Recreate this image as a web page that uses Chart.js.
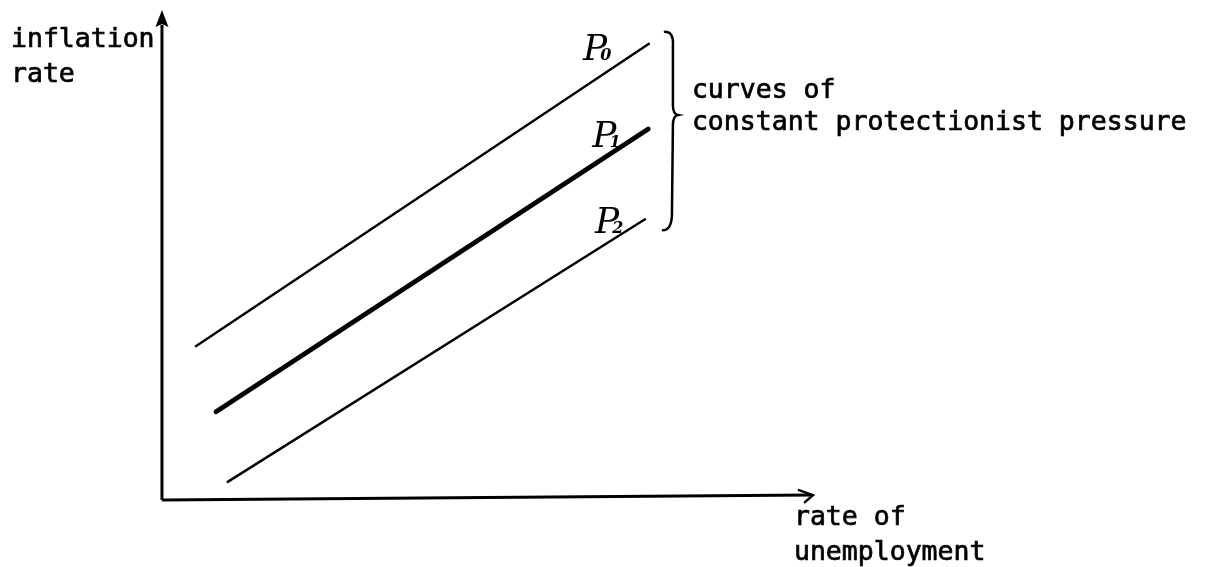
<!DOCTYPE html>
<html>
<head>
<meta charset="utf-8">
<script src="https://cdn.jsdelivr.net/npm/chart.js@4/dist/chart.umd.min.js"></script>
<style>
  html, body { margin: 0; padding: 0; background: #fff; }
  #wrap { width: 1213px; height: 567px; }
</style>
</head>
<body>
<div id="wrap"><canvas id="c" width="1213" height="567"></canvas></div>
<script>
// ---- data (arbitrary units: unemployment 0..100, inflation 0..100) ----
const curveNames = ['P0', 'P1', 'P2'];
const curveStartX = [5.2, 8.3, 10.1];
const curveStartY = [31.4, 18.0, 3.7];
const curveEndX = [74.8, 74.7, 74.2];
const curveEndY = [93.1, 75.7, 57.3];
const curveWidths = [2.4, 4.8, 2.4];
const xAxisEnd = [100, 1.0];   // unemployment axis end (x, y)
const yAxisEnd = [0, 100];     // inflation axis end (x, y)
const yAxisTitle = ['inflation', 'rate'];
const xAxisTitle = ['rate of', 'unemployment'];
const braceTitle = ['curves of', 'constant protectionist pressure'];

const datasets = curveNames.map((n, i) => ({
  label: n,
  data: [{x: curveStartX[i], y: curveStartY[i]}, {x: curveEndX[i], y: curveEndY[i]}],
  showLine: true,
  borderColor: '#000',
  borderWidth: curveWidths[i],
  pointRadius: 0,
  borderCapStyle: 'round'
}));
datasets.push({
  label: 'x-axis',
  data: [{x: 0, y: 0}, {x: xAxisEnd[0] - 0.3, y: xAxisEnd[1]}],
  showLine: true, borderColor: '#000', borderWidth: 3, pointRadius: 0
});
datasets.push({
  label: 'y-axis',
  data: [{x: 0, y: 0}, {x: yAxisEnd[0], y: yAxisEnd[1] - 3}],
  showLine: true, borderColor: '#000', borderWidth: 3, pointRadius: 0
});

const MONO = '26.5px "DejaVu Sans Mono", "Liberation Mono", monospace';

function monoText(ctx, s, x, y) {
  ctx.fillText(s, x, y);
  ctx.lineWidth = 0.7;
  ctx.strokeText(s, x, y);
}

const decor = {
  id: 'decor',
  afterDatasetsDraw(chart) {
    const ctx = chart.ctx;
    const xs = chart.scales.x, ys = chart.scales.y;
    const X = v => xs.getPixelForValue(v), Y = v => ys.getPixelForValue(v);
    ctx.save();
    ctx.fillStyle = '#000';
    ctx.strokeStyle = '#000';

    // y-axis arrowhead (filled)
    const tx = X(yAxisEnd[0]), ty = Y(yAxisEnd[1]);
    ctx.beginPath();
    ctx.moveTo(tx, ty);
    ctx.lineTo(tx - 6.5, ty + 17);
    ctx.lineTo(tx, ty + 14);
    ctx.lineTo(tx + 6.5, ty + 17);
    ctx.closePath();
    ctx.fill();

    // x-axis arrowhead (open chevron)
    const ax = X(xAxisEnd[0]), ay = Y(xAxisEnd[1]);
    ctx.lineWidth = 2.5;
    ctx.lineCap = 'round';
    ctx.beginPath();
    ctx.moveTo(ax - 14, ay - 5);
    ctx.lineTo(ax, ay);
    ctx.lineTo(ax - 8, ay + 7);
    ctx.stroke();

    // axis titles
    ctx.font = MONO;
    ctx.textBaseline = 'alphabetic';
    ctx.textAlign = 'left';
    const yl = X(0) - 151;
    monoText(ctx, yAxisTitle[0], yl, Y(yAxisEnd[1]) + 37);
    monoText(ctx, yAxisTitle[1], yl, Y(yAxisEnd[1]) + 72);
    monoText(ctx, xAxisTitle[0], X(xAxisEnd[0]) - 19, Y(0) + 25);
    monoText(ctx, xAxisTitle[1], X(xAxisEnd[0]) - 19, Y(0) + 60);

    // curve labels P0 P1 P2
    const offX = [-66, -56, -50];
    const offY = [16, 18, 14];
    curveNames.forEach((n, i) => {
      const px = X(curveEndX[i]) + offX[i];
      const py = Y(curveEndY[i]) + offY[i];
      ctx.font = 'italic 36px "DejaVu Serif", "Liberation Serif", serif';
      ctx.fillText('P', px, py);
      const w = ctx.measureText('P').width;
      ctx.font = 'italic bold 16px "DejaVu Serif", "Liberation Serif", serif';
      ctx.fillText(n.slice(1), px + w - 7, py);
    });

    // curly brace
    const bx = X(curveEndX[0]) + 24;
    const top = Y(curveEndY[0]) - 12;
    const bot = Y(curveEndY[2]) + 11;
    const mid = (top + bot) / 2 - 16;
    ctx.lineWidth = 2.5;
    ctx.beginPath();
    ctx.moveTo(bx - 8, top);
    ctx.quadraticCurveTo(bx + 1, top, bx, top + 14);
    ctx.lineTo(bx, mid - 10);
    ctx.quadraticCurveTo(bx, mid - 1, bx + 5, mid);
    ctx.quadraticCurveTo(bx, mid + 1, bx, mid + 10);
    ctx.lineTo(bx - 1, bot - 14);
    ctx.quadraticCurveTo(bx - 2, bot, bx - 10, bot);
    ctx.stroke();

    // brace text
    ctx.font = MONO;
    monoText(ctx, braceTitle[0], bx + 19, mid - 17);
    monoText(ctx, braceTitle[1], bx + 19, mid + 15);
    ctx.restore();
  }
};

new Chart(document.getElementById('c'), {
  type: 'scatter',
  data: { datasets },
  options: {
    responsive: false,
    animation: false,
    layout: { padding: 0 },
    plugins: { legend: { display: false }, tooltip: { enabled: false } },
    scales: {
      x: { type: 'linear', min: -24.88, max: 161.45, display: false },
      y: { type: 'linear', min: -13.67, max: 102.04, display: false }
    }
  },
  plugins: [decor]
});
</script>
</body>
</html>
